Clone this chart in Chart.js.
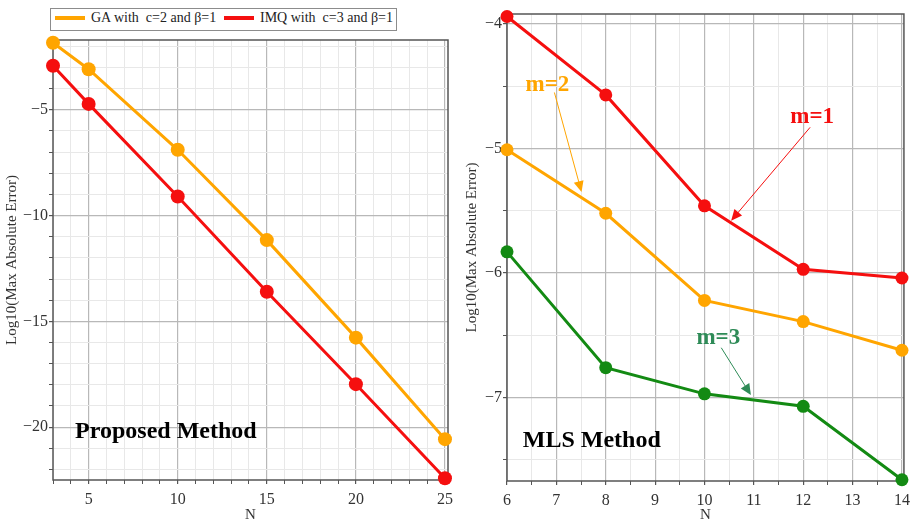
<!DOCTYPE html>
<html>
<head>
<meta charset="utf-8">
<script src="https://cdn.jsdelivr.net/npm/chart.js@4"></script>
<style>
  body { margin:0; background:#fff; width:916px; height:525px; position:relative; overflow:hidden;
         font-family:"Liberation Serif","Times New Roman",serif; }
  .panel { position:absolute; top:0; }
  #legend { position:absolute; left:50px; top:8px; width:345px; height:21px; border:1px solid #8c8c8c;
            background:#fff; font-size:14px; color:#222; white-space:nowrap; }
  #legend span.item { position:absolute; top:1px; }
  #legend i { display:inline-block; width:30px; height:4px; vertical-align:middle; margin-right:6px; margin-top:-2px; }
</style>
</head>
<body>
<div class="panel" style="left:0"><canvas id="chartLeft" width="460" height="525"></canvas></div>
<div class="panel" style="left:460px"><canvas id="chartRight" width="456" height="525"></canvas></div>
<div id="legend">
  <span class="item" style="left:4px"><i style="background:#ffa500"></i>GA with&nbsp; c=2 and β=1</span>
  <span class="item" style="left:173px"><i style="background:#f50f0f"></i>IMQ with&nbsp; c=3 and β=1</span>
</div>
<script>
// ── Data ─────────────────────────────────────────────────────────────────────

const N_LEFT  = [3, 5, 10, 15, 20, 25];
const GA_ERR  = [-1.83, -3.08, -6.89, -11.16, -15.77, -20.57];
const IMQ_ERR = [-2.92, -4.72, -9.10, -13.60, -17.97, -22.42];

const N_RIGHT = [6, 8, 10, 12, 14];
const MLS_M1  = [-3.94, -4.57, -5.46, -5.97, -6.04];
const MLS_M2  = [-5.01, -5.52, -6.22, -6.39, -6.62];
const MLS_M3  = [-5.83, -6.76, -6.97, -7.07, -7.66];

// grid / tick positions
const LEFT_X_TICKS  = [3,4,5,6,7,8,9,10,11,12,13,14,15,16,17,18,19,20,21,22,23,24,25];
const LEFT_Y_TICKS  = [-22,-21,-20,-19,-18,-17,-16,-15,-14,-13,-12,-11,-10,-9,-8,-7,-6,-5,-4,-3,-2];
const RIGHT_X_TICKS = [6,6.5,7,7.5,8,8.5,9,9.5,10,10.5,11,11.5,12,12.5,13,13.5,14];
const RIGHT_Y_TICKS = [-7.5,-7,-6.5,-6,-5.5,-5,-4.5,-4];

// text notes (data coords) and arrows [x0,y0,x1,y1]
const LEFT_NOTES = [
  { text: 'Proposed Method', x: 4.24, y: -20.24, color: '#000' },
];
const RIGHT_NOTES = [
  { text: 'MLS Method', x: 6.32, y: -7.35, color: '#000' },
  { text: 'm=2', x: 6.82, y: -4.49, color: '#ffa500', center: true, arrow: [6.96, -4.55, 7.51, -5.35] },
  { text: 'm=1', x: 12.18, y: -4.75, color: '#f50f0f', center: true, arrow: [12.14, -4.83, 10.54, -5.58] },
  { text: 'm=3', x: 10.28, y: -6.52, color: '#2e8b57', center: true, arrow: [10.34, -6.60, 10.94, -6.98] },
];

const ORANGE = '#ffa500';
const RED    = '#f50f0f';
const GREEN  = '#138a13';
const SERIF  = '"Liberation Serif", "Times New Roman", serif';

Chart.defaults.font.family = SERIF;
Chart.defaults.color = '#333';

// ── Plugins ──────────────────────────────────────────────────────────────────

const framePlugin = {
  id: 'frame',
  beforeDatasetsDraw(chart) {
    const { ctx, chartArea: a } = chart;
    ctx.save();
    ctx.strokeStyle = '#555';
    ctx.lineWidth = 1.5;
    ctx.strokeRect(a.left, a.top, a.right - a.left, a.bottom - a.top);
    ctx.restore();
  },
};

function notesPlugin(notes) {
  return {
    id: 'notes',
    afterDraw(chart) {
      const { ctx } = chart;
      const sx = chart.scales.x, sy = chart.scales.y;
      ctx.save();
      for (const n of notes) {
        ctx.fillStyle = n.color;
        ctx.font = `bold ${n.center ? 23 : 24}px ${SERIF}`;
        ctx.textAlign = n.center ? 'center' : 'left';
        ctx.textBaseline = 'middle';
        ctx.fillText(n.text, sx.getPixelForValue(n.x), sy.getPixelForValue(n.y));
        if (n.arrow) {
          const x0 = sx.getPixelForValue(n.arrow[0]), y0 = sy.getPixelForValue(n.arrow[1]);
          const x1 = sx.getPixelForValue(n.arrow[2]), y1 = sy.getPixelForValue(n.arrow[3]);
          const ang = Math.atan2(y1 - y0, x1 - x0);
          ctx.strokeStyle = n.color;
          ctx.lineWidth = 1;
          ctx.beginPath();
          ctx.moveTo(x0, y0);
          ctx.lineTo(x1 - 9 * Math.cos(ang), y1 - 9 * Math.sin(ang));
          ctx.stroke();
          ctx.beginPath();
          ctx.moveTo(x1, y1);
          ctx.lineTo(x1 - 11 * Math.cos(ang) + 5 * Math.sin(ang), y1 - 11 * Math.sin(ang) - 5 * Math.cos(ang));
          ctx.lineTo(x1 - 11 * Math.cos(ang) - 5 * Math.sin(ang), y1 - 11 * Math.sin(ang) + 5 * Math.cos(ang));
          ctx.closePath();
          ctx.fill();
        }
      }
      ctx.restore();
    },
  };
}

// ── Helpers ──────────────────────────────────────────────────────────────────

function series(label, xs, ys, color, r) {
  return {
    label,
    data: xs.map((x, i) => ({ x, y: ys[i] })),
    borderColor: color,
    backgroundColor: color,
    borderWidth: 3,
    pointRadius: r,
    pointBorderWidth: 0,
    pointBackgroundColor: color,
    tension: 0,
    clip: false,
  };
}

function axis(opts) {
  const { min, max, ticks, isMajor, label, title, size, position } = opts;
  return {
    type: 'linear',
    position,
    min, max,
    afterBuildTicks: s => { s.ticks = ticks.map(v => ({ value: v })); },
    afterFit: s => { if (position === 'left') s.width = size; else s.height = size; },
    border: { display: false },
    grid: {
      color: c => (c.tick && isMajor(c.tick.value)) ? '#b8b8b8' : '#e8e8e8',
      lineWidth: c => (c.tick && isMajor(c.tick.value)) ? 1.2 : 1,
      tickColor: '#555',
      tickLength: 4,
    },
    ticks: {
      autoSkip: false,
      maxRotation: 0,
      padding: position === 'left' ? 1 : 6,
      color: '#333',
      font: { size: 16 },
      callback: v => label(v),
    },
    title: {
      display: true,
      text: title,
      color: '#333',
      font: { size: 15 },
      padding: { top: 3, bottom: 1 },
    },
  };
}

const minus = v => (v < 0 ? '\u2212' + Math.abs(v) : String(v));

// ── Left: proposed method ────────────────────────────────────────────────────

new Chart(document.getElementById('chartLeft'), {
  type: 'line',
  data: {
    datasets: [
      series('GA with  c=2 and β=1', N_LEFT, GA_ERR, ORANGE, 7),
      series('IMQ with  c=3 and β=1', N_LEFT, IMQ_ERR, RED, 7),
    ],
  },
  options: {
    responsive: false,
    animation: false,
    devicePixelRatio: 1,
    layout: { padding: { top: 40, right: 12, left: 0, bottom: 0 } },
    plugins: { legend: { display: false }, tooltip: { enabled: false } },
    scales: {
      x: axis({ position: 'bottom', min: 3, max: 25.17, ticks: LEFT_X_TICKS, size: 45, title: 'N',
                isMajor: v => v % 5 === 0, label: v => (v % 5 === 0 ? String(v) : '') }),
      y: axis({ position: 'left', min: -22.5, max: -1.7, ticks: LEFT_Y_TICKS, size: 53,
                title: 'Log10(Max Absolute Error)',
                isMajor: v => v % 5 === 0, label: v => (v % 5 === 0 ? minus(v) : '') }),
    },
  },
  plugins: [framePlugin, notesPlugin(LEFT_NOTES)],
});

// ── Right: MLS method ────────────────────────────────────────────────────────

new Chart(document.getElementById('chartRight'), {
  type: 'line',
  data: {
    datasets: [
      series('m=1', N_RIGHT, MLS_M1, RED, 6.5),
      series('m=2', N_RIGHT, MLS_M2, ORANGE, 6.5),
      series('m=3', N_RIGHT, MLS_M3, GREEN, 6.5),
    ],
  },
  options: {
    responsive: false,
    animation: false,
    devicePixelRatio: 1,
    layout: { padding: { top: 14, right: 9, left: 0, bottom: 0 } },
    plugins: { legend: { display: false }, tooltip: { enabled: false } },
    scales: {
      x: axis({ position: 'bottom', min: 6, max: 14.04, ticks: RIGHT_X_TICKS, size: 44, title: 'N',
                isMajor: v => Number.isInteger(v), label: v => (Number.isInteger(v) ? String(v) : '') }),
      y: axis({ position: 'left', min: -7.67, max: -3.92, ticks: RIGHT_Y_TICKS, size: 47,
                title: 'Log10(Max Absolute Error)',
                isMajor: v => Number.isInteger(v), label: v => (Number.isInteger(v) ? minus(v) : '') }),
    },
  },
  plugins: [framePlugin, notesPlugin(RIGHT_NOTES)],
});
</script>
</body>
</html>
